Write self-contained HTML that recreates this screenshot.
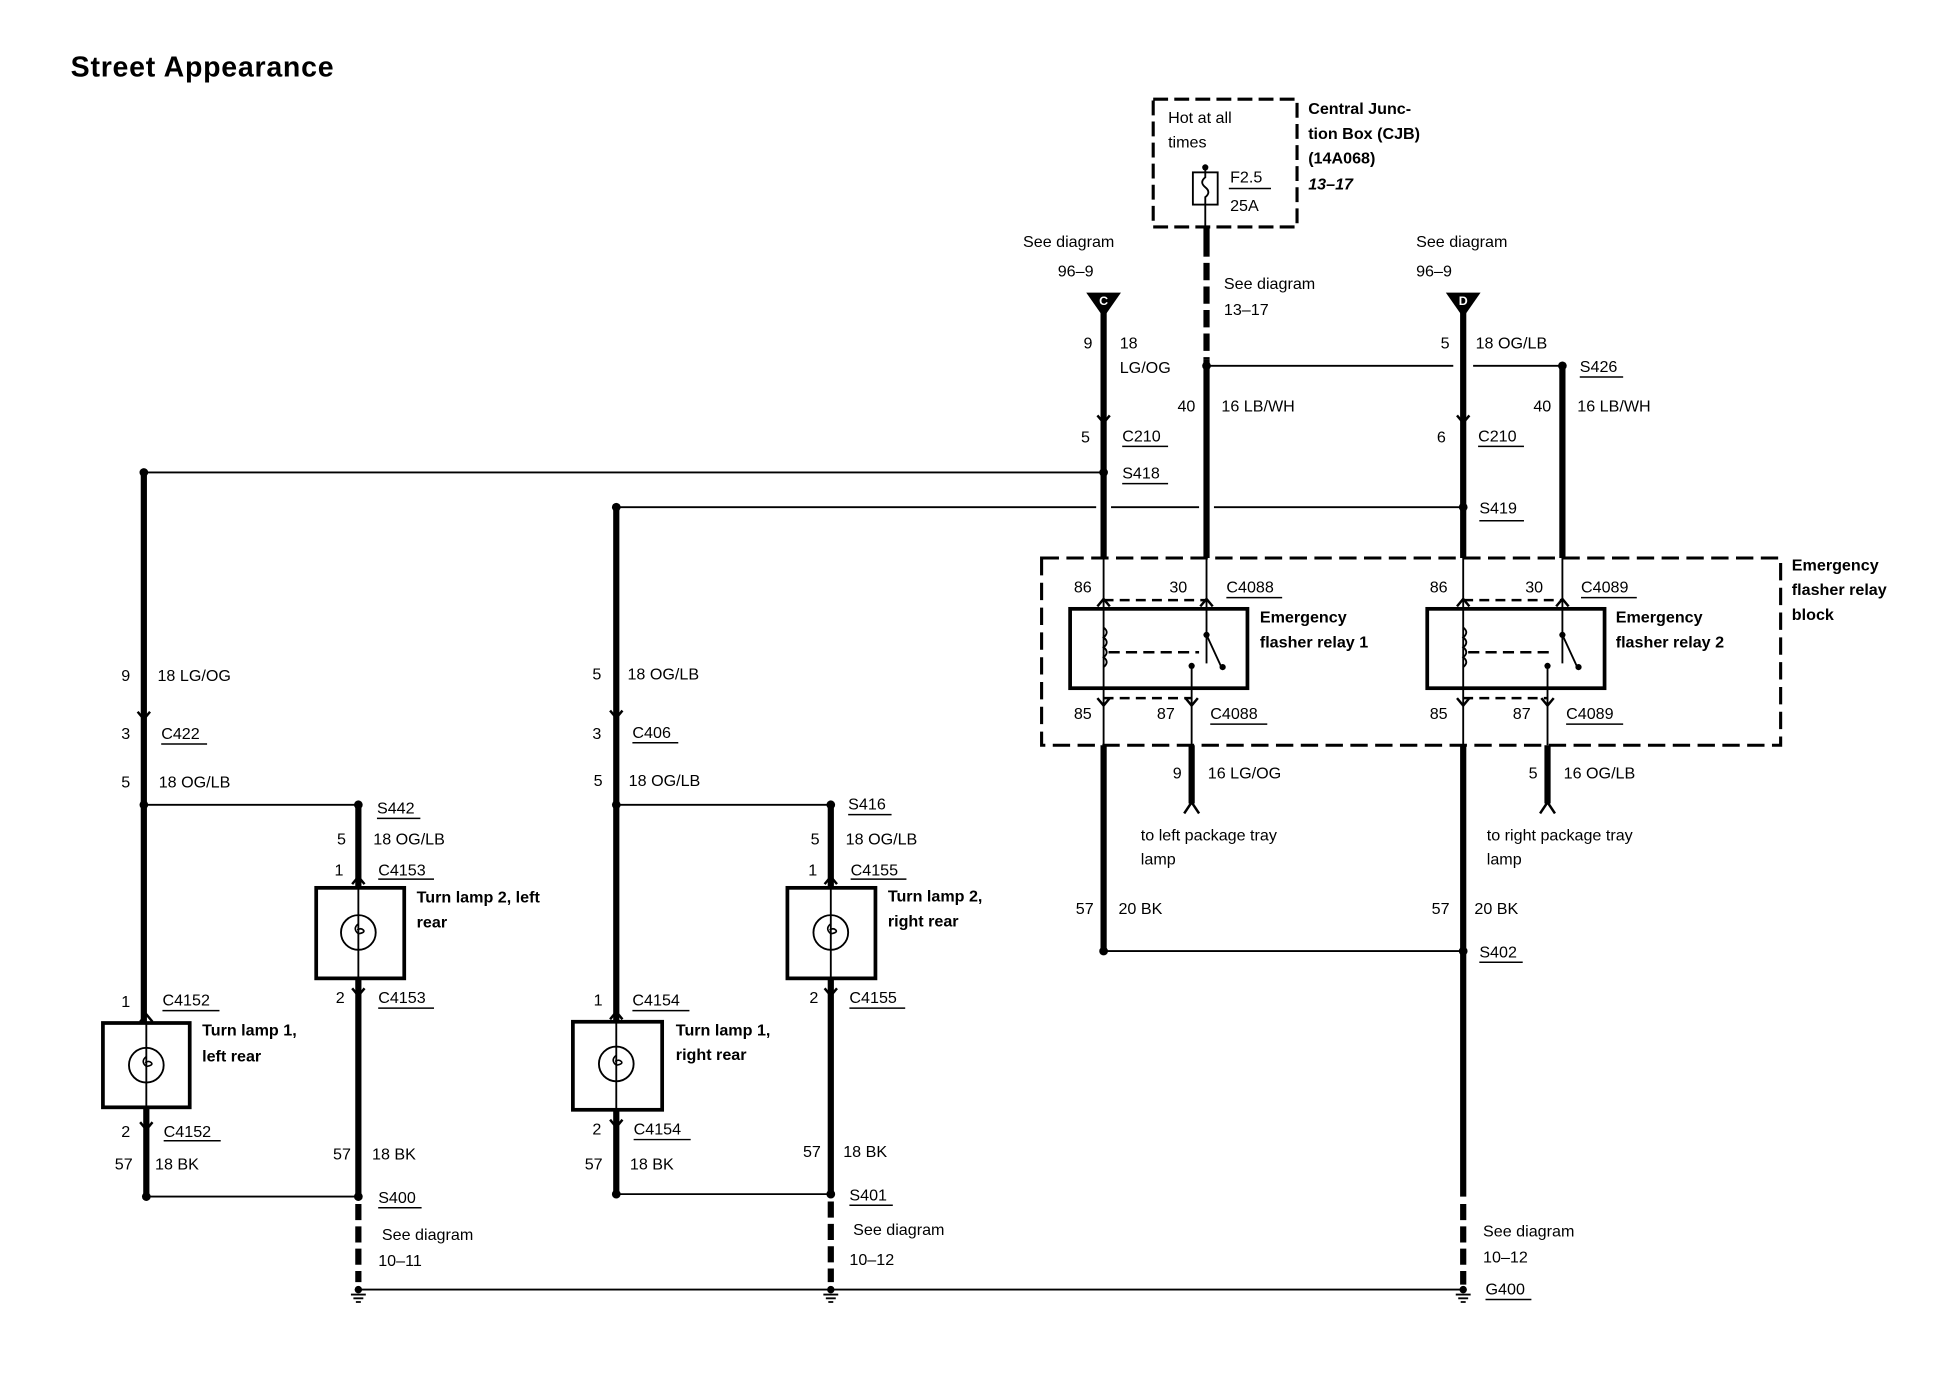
<!DOCTYPE html>
<html><head><meta charset="utf-8"><style>
html,body{margin:0;padding:0;background:#fff;}
svg{display:block;}
text{font-family:"Liberation Sans",Arial,sans-serif;font-size:13px;fill:#000;}
.b{font-weight:bold;}
</style></head><body>
<svg width="1942" height="1392" viewBox="0 0 1942 1392" xmlns="http://www.w3.org/2000/svg">
<rect width="1942" height="1392" fill="#fff"/>
<g transform="scale(1.24)">
<text x="57" y="61.5" class="b" style="font-size:23px" textLength="212">Street Appearance</text>

<!-- CJB -->
<rect x="930" y="80" width="116" height="103" fill="none" stroke="#000" stroke-width="2.5" stroke-dasharray="12,5"/>
<text x="942" y="99">Hot at all</text>
<text x="942" y="119">times</text>
<rect x="962" y="139" width="20" height="26" fill="none" stroke="#000" stroke-width="1.5"/>
<circle cx="972" cy="135" r="2.5"/>
<path d="M972,135 v8 q-5,4 0,8 q5,4 0,8 v24" fill="none" stroke="#000" stroke-width="1.5"/>
<text x="992" y="147">F2.5</text>
<line x1="991" y1="152" x2="1025" y2="152" stroke="#000" stroke-width="1.2"/>
<text x="992" y="170">25A</text>
<text x="1055" y="92" class="b">Central Junc-</text>
<text x="1055" y="112" class="b">tion Box (CJB)</text>
<text x="1055" y="132" class="b">(14A068)</text>
<text x="1055" y="153" class="b" font-style="italic">13–17</text>

<g stroke="#000" fill="none">
<!-- central wire -->
<line x1="973" y1="183" x2="973" y2="207" stroke-width="5"/>
<line x1="973" y1="212" x2="973" y2="290" stroke-width="5" stroke-dasharray="14,5"/>
<line x1="973" y1="290" x2="973" y2="450" stroke-width="5"/>
<line x1="973" y1="450" x2="973" y2="535" stroke-width="1.5"/>
<!-- C wire -->
<line x1="890" y1="250" x2="890" y2="450" stroke-width="5"/>
<line x1="890" y1="450" x2="890" y2="601" stroke-width="1.5"/>
<line x1="890" y1="601" x2="890" y2="767" stroke-width="5"/>
<!-- D wire -->
<line x1="1180" y1="250" x2="1180" y2="450" stroke-width="5"/>
<line x1="1180" y1="450" x2="1180" y2="601" stroke-width="1.5"/>
<line x1="1180" y1="601" x2="1180" y2="965" stroke-width="5"/>
<line x1="1180" y1="971" x2="1180" y2="1036" stroke-width="5" stroke-dasharray="13,5"/>
<!-- S426 wire -->
<line x1="1260" y1="297" x2="1260" y2="450" stroke-width="5"/>
<line x1="1260" y1="450" x2="1260" y2="535" stroke-width="1.5"/>
<!-- 87 wires -->
<line x1="961" y1="537" x2="961" y2="601" stroke-width="1.5"/>
<line x1="961" y1="601" x2="961" y2="648" stroke-width="5"/>
<path d="M955,656 L961,647 L967,656" stroke-width="2"/>
<line x1="1248" y1="537" x2="1248" y2="601" stroke-width="1.5"/>
<line x1="1248" y1="601" x2="1248" y2="648" stroke-width="5"/>
<path d="M1242,656 L1248,647 L1254,656" stroke-width="2"/>

<!-- thin horizontal lines -->
<line x1="973" y1="295" x2="1172" y2="295" stroke-width="1.5"/>
<line x1="1188" y1="295" x2="1260" y2="295" stroke-width="1.5"/>
<line x1="116" y1="381" x2="890" y2="381" stroke-width="1.5"/>
<line x1="497" y1="409" x2="884" y2="409" stroke-width="1.5"/>
<line x1="896" y1="409" x2="967" y2="409" stroke-width="1.5"/>
<line x1="979" y1="409" x2="1180" y2="409" stroke-width="1.5"/>
<line x1="116" y1="649" x2="289" y2="649" stroke-width="1.5"/>
<line x1="497" y1="649" x2="670" y2="649" stroke-width="1.5"/>
<line x1="116" y1="965" x2="289" y2="965" stroke-width="1.5"/>
<line x1="497" y1="963" x2="670" y2="963" stroke-width="1.5"/>
<line x1="890" y1="767" x2="1180" y2="767" stroke-width="1.5"/>
<line x1="289" y1="1040" x2="1180" y2="1040" stroke-width="1.5"/>

<!-- relay block -->
<rect x="840" y="450" width="596" height="151" stroke-width="2.5" stroke-dasharray="14,6"/>
<!-- relay 1 -->
<rect x="863" y="491" width="143" height="64" stroke-width="3"/>
<line x1="890" y1="484" x2="973" y2="484" stroke-width="2" stroke-dasharray="8,5"/>
<line x1="890" y1="563" x2="961" y2="563" stroke-width="2" stroke-dasharray="8,5"/>
<path d="M890,506 q5,4 0,8 q5,4 0,8 q5,4 0,8 q5,4 0,8" stroke-width="1.5"/>
<line x1="894" y1="526" x2="967" y2="526" stroke-width="2" stroke-dasharray="9,5"/>
<line x1="973" y1="512" x2="985" y2="538" stroke-width="1.5"/>
<!-- relay 2 -->
<rect x="1151" y="491" width="143" height="64" stroke-width="3"/>
<line x1="1180" y1="484" x2="1260" y2="484" stroke-width="2" stroke-dasharray="8,5"/>
<line x1="1180" y1="563" x2="1248" y2="563" stroke-width="2" stroke-dasharray="8,5"/>
<path d="M1180,506 q5,4 0,8 q5,4 0,8 q5,4 0,8 q5,4 0,8" stroke-width="1.5"/>
<line x1="1184" y1="526" x2="1254" y2="526" stroke-width="2" stroke-dasharray="9,5"/>
<line x1="1260" y1="512" x2="1272" y2="538" stroke-width="1.5"/>

<!-- left wires -->
<line x1="116" y1="381" x2="116" y2="826" stroke-width="5"/>
<line x1="118" y1="826" x2="118" y2="893" stroke-width="1.5"/>
<line x1="118" y1="893" x2="118" y2="965" stroke-width="5"/>
<line x1="289" y1="649" x2="289" y2="716" stroke-width="5"/>
<line x1="289" y1="716" x2="289" y2="790" stroke-width="1.5"/>
<line x1="289" y1="790" x2="289" y2="965" stroke-width="5"/>
<line x1="289" y1="971" x2="289" y2="1034" stroke-width="5" stroke-dasharray="13,5"/>
<line x1="497" y1="409" x2="497" y2="824" stroke-width="5"/>
<line x1="497" y1="824" x2="497" y2="895" stroke-width="1.5"/>
<line x1="497" y1="895" x2="497" y2="963" stroke-width="5"/>
<line x1="670" y1="649" x2="670" y2="716" stroke-width="5"/>
<line x1="670" y1="716" x2="670" y2="790" stroke-width="1.5"/>
<line x1="670" y1="790" x2="670" y2="963" stroke-width="5"/>
<line x1="670" y1="969" x2="670" y2="1034" stroke-width="5" stroke-dasharray="13,5"/>

<!-- lamp boxes -->
<rect x="83" y="825" width="70" height="68" stroke-width="3"/>
<rect x="255" y="716" width="71" height="73" stroke-width="3"/>
<rect x="462" y="824" width="72" height="71" stroke-width="3"/>
<rect x="635" y="716" width="71" height="73" stroke-width="3"/>
<circle cx="118" cy="859" r="14" stroke-width="1.5"/>
<circle cx="289" cy="752" r="14" stroke-width="1.5"/>
<circle cx="497" cy="858" r="14" stroke-width="1.5"/>
<circle cx="670" cy="752" r="14" stroke-width="1.5"/>
<path d="M118,852 q-5,4 0,8 q6,-1 4,-3 q-2,-2 -5,0" stroke-width="1.3"/>
<path d="M289,745 q-5,4 0,8 q6,-1 4,-3 q-2,-2 -5,0" stroke-width="1.3"/>
<path d="M497,851 q-5,4 0,8 q6,-1 4,-3 q-2,-2 -5,0" stroke-width="1.3"/>
<path d="M670,745 q-5,4 0,8 q6,-1 4,-3 q-2,-2 -5,0" stroke-width="1.3"/>

<!-- arrows: down v -->
<g stroke-width="2">
<path d="M885,335 L890,341 L895,335"/>
<path d="M1175,335 L1180,341 L1185,335"/>
<path d="M111,574 L116,580 L121,574"/>
<path d="M492,573 L497,579 L502,573"/>
<path d="M113,905 L118,911 L123,905"/>
<path d="M284,797 L289,803 L294,797"/>
<path d="M492,903 L497,909 L502,903"/>
<path d="M665,797 L670,803 L675,797"/>
<path d="M885,563 L890,569 L895,563"/>
<path d="M956,563 L961,569 L966,563"/>
<path d="M1175,563 L1180,569 L1185,563"/>
<path d="M1243,563 L1248,569 L1253,563"/>
<!-- up -->
<path d="M885,489 L890,483 L895,489"/>
<path d="M968,489 L973,483 L978,489"/>
<path d="M1175,489 L1180,483 L1185,489"/>
<path d="M1255,489 L1260,483 L1265,489"/>
<path d="M113,824 L118,818 L123,824"/>
<path d="M284,713 L289,707 L294,713"/>
<path d="M492,822 L497,816 L502,822"/>
<path d="M665,713 L670,707 L675,713"/>
</g>

<!-- ground symbols -->
<g stroke-width="1.5">
<path d="M283,1044 h12 M285,1047 h8 M287,1050 h4"/>
<path d="M664,1044 h12 M666,1047 h8 M668,1050 h4"/>
<path d="M1174,1044 h12 M1176,1047 h8 M1178,1050 h4"/>
</g>

<!-- underlines -->
<g stroke-width="1.2">
<path d="M905,360 h37 M905,390 h37 M1192,360 h37 M1193,420 h36 M1274,304 h35"/>
<path d="M989,482 h45 M976,584 h46 M1275,482 h45 M1263,584 h46"/>
<path d="M1193,776 h35 M1198,1048 h37"/>
<path d="M130,600 h37 M510,599 h37 M304,660 h35 M684,657 h35"/>
<path d="M305,709 h45 M686,709 h45 M131,815 h46 M510,815 h46"/>
<path d="M305,813 h45 M685,813 h45 M132,920 h46 M511,919 h46"/>
<path d="M305,974 h35 M685,972 h35"/>
</g>
</g>

<!-- C / D triangles -->
<polygon points="876,236 904,236 890,256" fill="#000"/>
<polygon points="1166,236 1194,236 1180,256" fill="#000"/>
<text x="890" y="246" text-anchor="middle" style="font-size:10px;fill:#fff" class="b">C</text>
<text x="1180" y="246" text-anchor="middle" style="font-size:10px;fill:#fff" class="b">D</text>

<!-- dots -->
<g fill="#000">
<circle cx="973" cy="295" r="3.5"/><circle cx="1260" cy="295" r="3.5"/>
<circle cx="890" cy="381" r="3.5"/><circle cx="116" cy="381" r="3.5"/>
<circle cx="497" cy="409" r="3.5"/><circle cx="1180" cy="409" r="3.5"/>
<circle cx="116" cy="649" r="3.5"/><circle cx="289" cy="649" r="3.5"/>
<circle cx="497" cy="649" r="3.5"/><circle cx="670" cy="649" r="3.5"/>
<circle cx="118" cy="965" r="3.5"/><circle cx="289" cy="965" r="3.5"/>
<circle cx="497" cy="963" r="3.5"/><circle cx="670" cy="963" r="3.5"/>
<circle cx="890" cy="767" r="3.5"/><circle cx="1180" cy="767" r="3.5"/>
<circle cx="289" cy="1040" r="3"/><circle cx="670" cy="1040" r="3"/><circle cx="1180" cy="1040" r="3"/>
<circle cx="973" cy="512" r="2.5"/><circle cx="986" cy="538" r="2.5"/><circle cx="961" cy="537" r="2.5"/>
<circle cx="1260" cy="512" r="2.5"/><circle cx="1273" cy="538" r="2.5"/><circle cx="1248" cy="537" r="2.5"/>
</g>

<!-- labels top -->
<text x="825" y="199">See diagram</text>
<text x="853" y="223">96–9</text>
<text x="1142" y="199">See diagram</text>
<text x="1142" y="223">96–9</text>
<text x="987" y="233">See diagram</text>
<text x="987" y="254">13–17</text>
<text x="881" y="281" text-anchor="end">9</text>
<text x="903" y="281">18</text>
<text x="903" y="301">LG/OG</text>
<text x="1169" y="281" text-anchor="end">5</text>
<text x="1190" y="281">18 OG/LB</text>
<text x="1274" y="300">S426</text>
<text x="964" y="332" text-anchor="end">40</text>
<text x="985" y="332">16 LB/WH</text>
<text x="1251" y="332" text-anchor="end">40</text>
<text x="1272" y="332">16 LB/WH</text>
<text x="879" y="357" text-anchor="end">5</text>
<text x="905" y="356">C210</text>
<text x="1166" y="357" text-anchor="end">6</text>
<text x="1192" y="356">C210</text>
<text x="905" y="386">S418</text>
<text x="1193" y="414">S419</text>

<!-- relay labels -->
<text x="866" y="478">86</text>
<text x="943" y="478">30</text>
<text x="989" y="478">C4088</text>
<text x="1153" y="478">86</text>
<text x="1230" y="478">30</text>
<text x="1275" y="478">C4089</text>
<text x="1016" y="502" class="b">Emergency</text>
<text x="1016" y="522" class="b">flasher relay 1</text>
<text x="1303" y="502" class="b">Emergency</text>
<text x="1303" y="522" class="b">flasher relay 2</text>
<text x="1445" y="460" class="b">Emergency</text>
<text x="1445" y="480" class="b">flasher relay</text>
<text x="1445" y="500" class="b">block</text>
<text x="866" y="580">85</text>
<text x="933" y="580">87</text>
<text x="976" y="580">C4088</text>
<text x="1153" y="580">85</text>
<text x="1220" y="580">87</text>
<text x="1263" y="580">C4089</text>
<text x="953" y="628" text-anchor="end">9</text>
<text x="974" y="628">16 LG/OG</text>
<text x="1240" y="628" text-anchor="end">5</text>
<text x="1261" y="628">16 OG/LB</text>
<text x="920" y="678">to left package tray</text>
<text x="920" y="697">lamp</text>
<text x="1199" y="678">to right package tray</text>
<text x="1199" y="697">lamp</text>
<text x="882" y="737" text-anchor="end">57</text>
<text x="902" y="737">20 BK</text>
<text x="1169" y="737" text-anchor="end">57</text>
<text x="1189" y="737">20 BK</text>
<text x="1193" y="772">S402</text>
<text x="1196" y="997">See diagram</text>
<text x="1196" y="1018">10–12</text>
<text x="1198" y="1044">G400</text>

<!-- left section labels -->
<text x="105" y="549" text-anchor="end">9</text>
<text x="127" y="549">18 LG/OG</text>
<text x="105" y="596" text-anchor="end">3</text>
<text x="130" y="596">C422</text>
<text x="105" y="635" text-anchor="end">5</text>
<text x="128" y="635">18 OG/LB</text>
<text x="304" y="656">S442</text>
<text x="279" y="681" text-anchor="end">5</text>
<text x="301" y="681">18 OG/LB</text>
<text x="277" y="706" text-anchor="end">1</text>
<text x="305" y="706">C4153</text>
<text x="336" y="728" class="b">Turn lamp 2, left</text>
<text x="336" y="748" class="b">rear</text>
<text x="278" y="809" text-anchor="end">2</text>
<text x="305" y="809">C4153</text>
<text x="105" y="812" text-anchor="end">1</text>
<text x="131" y="811">C4152</text>
<text x="163" y="835" class="b">Turn lamp 1,</text>
<text x="163" y="856" class="b">left rear</text>
<text x="105" y="917" text-anchor="end">2</text>
<text x="132" y="917">C4152</text>
<text x="107" y="943" text-anchor="end">57</text>
<text x="125" y="943">18 BK</text>
<text x="283" y="935" text-anchor="end">57</text>
<text x="300" y="935">18 BK</text>
<text x="305" y="970">S400</text>
<text x="308" y="1000">See diagram</text>
<text x="305" y="1021">10–11</text>

<text x="485" y="548" text-anchor="end">5</text>
<text x="506" y="548">18 OG/LB</text>
<text x="485" y="596" text-anchor="end">3</text>
<text x="510" y="595">C406</text>
<text x="486" y="634" text-anchor="end">5</text>
<text x="507" y="634">18 OG/LB</text>
<text x="684" y="653">S416</text>
<text x="661" y="681" text-anchor="end">5</text>
<text x="682" y="681">18 OG/LB</text>
<text x="659" y="706" text-anchor="end">1</text>
<text x="686" y="706">C4155</text>
<text x="716" y="727" class="b">Turn lamp 2,</text>
<text x="716" y="747" class="b">right rear</text>
<text x="660" y="809" text-anchor="end">2</text>
<text x="685" y="809">C4155</text>
<text x="486" y="811" text-anchor="end">1</text>
<text x="510" y="811">C4154</text>
<text x="545" y="835" class="b">Turn lamp 1,</text>
<text x="545" y="855" class="b">right rear</text>
<text x="485" y="915" text-anchor="end">2</text>
<text x="511" y="915">C4154</text>
<text x="486" y="943" text-anchor="end">57</text>
<text x="508" y="943">18 BK</text>
<text x="662" y="933" text-anchor="end">57</text>
<text x="680" y="933">18 BK</text>
<text x="685" y="968">S401</text>
<text x="688" y="996">See diagram</text>
<text x="685" y="1020">10–12</text>
</g>
</svg>
</body></html>
